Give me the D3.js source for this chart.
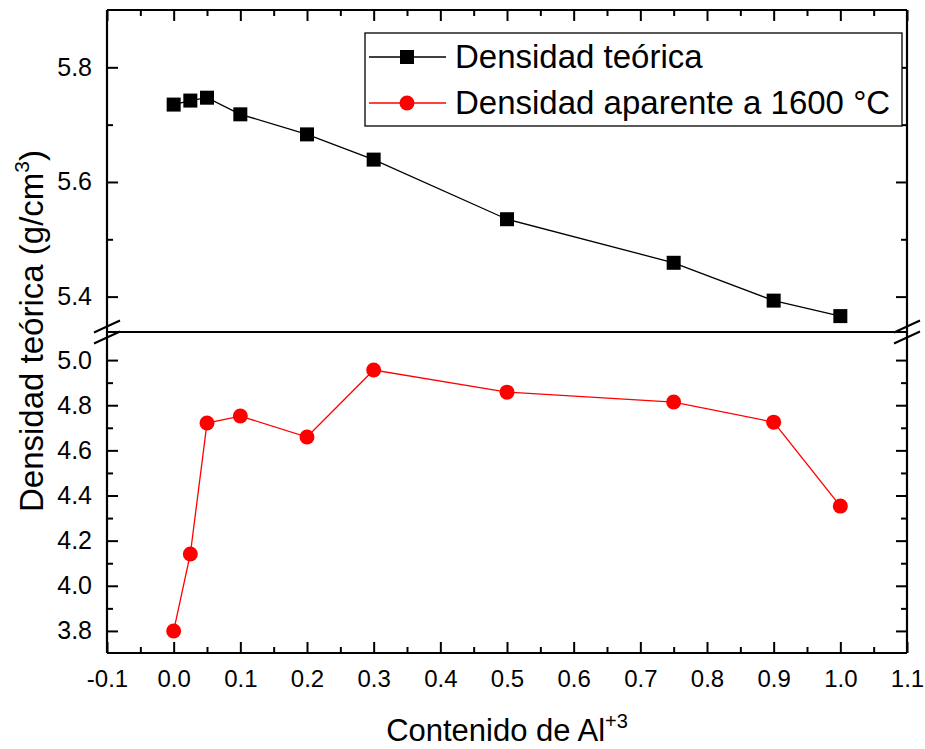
<!DOCTYPE html>
<html>
<head>
<meta charset="utf-8">
<script src="https://cdn.jsdelivr.net/npm/d3@7"></script>
<style>
  body { margin: 0; background: #fff; }
  svg { display: block; }
  text { font-family: "Liberation Sans", Arial, sans-serif; fill: #000; }
</style>
</head>
<body>
<svg id="chart" width="925" height="749"></svg>
<script>
// ---- data ----
const xValues = [0, 0.025, 0.05, 0.1, 0.2, 0.3, 0.5, 0.75, 0.9, 1.0];
const densTeorica = [5.735, 5.742, 5.747, 5.718, 5.683, 5.639, 5.535, 5.459, 5.393, 5.366];
const densAparente = [3.80, 4.141, 4.721, 4.752, 4.659, 4.956, 4.858, 4.814, 4.725, 4.353];
const xTicks = [-0.1, 0.0, 0.1, 0.2, 0.3, 0.4, 0.5, 0.6, 0.7, 0.8, 0.9, 1.0, 1.1];
const xMinorTicks = [-0.05, 0.05, 0.15, 0.25, 0.35, 0.45, 0.55, 0.65, 0.75, 0.85, 0.95, 1.05];
const yTopTicks = [5.4, 5.6, 5.8];
const yTopMinor = [5.5, 5.7];
const yBotTicks = [3.8, 4.0, 4.2, 4.4, 4.6, 4.8, 5.0];
const yBotMinor = [3.9, 4.1, 4.3, 4.5, 4.7, 4.9];
const seriesNames = ["Densidad teórica", "Densidad aparente a 1600 °C"];

const svg = d3.select("#chart");
svg.append("rect").attr("width", 925).attr("height", 749).attr("fill", "#fff");

const L = 107, R = 907, T = 10, B = 653, brk = 332;
const x = d3.scaleLinear().domain([-0.1, 1.1]).range([L, R]);
const yTop = d3.scaleLinear().domain([5.34, 5.9]).range([331, T]);
const yBot = d3.scaleLinear().domain([3.7, 5.12]).range([653.5, 333]);

const fmt1 = v => d3.format(".1f")(v).replace("\u2212", "-");
const major = 11, minor = 6;

function styleAxis(g, fontSize) {
  g.select(".domain").remove();
  g.selectAll(".tick line").attr("stroke", "#000").attr("stroke-width", 2);
  g.selectAll("text").attr("font-size", fontSize).attr("font-family", "Liberation Sans, Arial, sans-serif").attr("fill", "#000");
}

// x axes (bottom with labels, top without)
svg.append("g").attr("transform", `translate(0,${B})`)
  .call(d3.axisBottom(x).tickValues(xTicks).tickFormat(fmt1).tickSizeInner(-major).tickSizeOuter(0).tickPadding(17))
  .call(g => styleAxis(g, 24));
svg.append("g").attr("transform", `translate(0,${B})`)
  .call(d3.axisBottom(x).tickValues(xMinorTicks).tickFormat("").tickSizeInner(-minor).tickSizeOuter(0))
  .call(g => styleAxis(g, 0));
svg.append("g").attr("transform", `translate(0,${T})`)
  .call(d3.axisTop(x).tickValues(xTicks).tickFormat("").tickSizeInner(-major).tickSizeOuter(0))
  .call(g => styleAxis(g, 0));
svg.append("g").attr("transform", `translate(0,${T})`)
  .call(d3.axisTop(x).tickValues(xMinorTicks).tickFormat("").tickSizeInner(-minor).tickSizeOuter(0))
  .call(g => styleAxis(g, 0));

// y axes, top panel
svg.append("g").attr("transform", `translate(${L},0)`)
  .call(d3.axisLeft(yTop).tickValues(yTopTicks).tickFormat(fmt1).tickSizeInner(-major).tickSizeOuter(0).tickPadding(15))
  .call(g => styleAxis(g, 25));
svg.append("g").attr("transform", `translate(${L},0)`)
  .call(d3.axisLeft(yTop).tickValues(yTopMinor).tickFormat("").tickSizeInner(-minor).tickSizeOuter(0))
  .call(g => styleAxis(g, 0));
svg.append("g").attr("transform", `translate(${R},0)`)
  .call(d3.axisRight(yTop).tickValues(yTopTicks).tickFormat("").tickSizeInner(-major).tickSizeOuter(0))
  .call(g => styleAxis(g, 0));
svg.append("g").attr("transform", `translate(${R},0)`)
  .call(d3.axisRight(yTop).tickValues(yTopMinor).tickFormat("").tickSizeInner(-minor).tickSizeOuter(0))
  .call(g => styleAxis(g, 0));

// y axes, bottom panel
svg.append("g").attr("transform", `translate(${L},0)`)
  .call(d3.axisLeft(yBot).tickValues(yBotTicks).tickFormat(fmt1).tickSizeInner(-major).tickSizeOuter(0).tickPadding(15))
  .call(g => styleAxis(g, 25));
svg.append("g").attr("transform", `translate(${L},0)`)
  .call(d3.axisLeft(yBot).tickValues(yBotMinor).tickFormat("").tickSizeInner(-minor).tickSizeOuter(0))
  .call(g => styleAxis(g, 0));
svg.append("g").attr("transform", `translate(${R},0)`)
  .call(d3.axisRight(yBot).tickValues(yBotTicks).tickFormat("").tickSizeInner(-major).tickSizeOuter(0))
  .call(g => styleAxis(g, 0));
svg.append("g").attr("transform", `translate(${R},0)`)
  .call(d3.axisRight(yBot).tickValues(yBotMinor).tickFormat("").tickSizeInner(-minor).tickSizeOuter(0))
  .call(g => styleAxis(g, 0));

// frame
const frame = svg.append("g").attr("stroke", "#000").attr("stroke-width", 2.2).attr("fill", "none");
frame.append("line").attr("x1", L).attr("x2", R).attr("y1", T).attr("y2", T);
frame.append("line").attr("x1", L).attr("x2", R).attr("y1", B).attr("y2", B);
frame.append("line").attr("x1", L).attr("x2", L).attr("y1", T).attr("y2", B);
frame.append("line").attr("x1", R).attr("x2", R).attr("y1", T).attr("y2", B);
frame.append("line").attr("x1", L).attr("x2", R).attr("y1", brk).attr("y2", brk);

// break marks
[L, R].forEach(cx => {
  [-5.5, 5.5].forEach(dy => {
    frame.append("line")
      .attr("x1", cx - 13).attr("y1", brk + dy + 6)
      .attr("x2", cx + 13).attr("y2", brk + dy - 6)
      .attr("stroke-width", 2);
  });
});

// series lines
const lineTop = d3.line().x((d, i) => x(xValues[i])).y(d => yTop(d));
const lineBot = d3.line().x((d, i) => x(xValues[i])).y(d => yBot(d));
svg.append("path").datum(densTeorica).attr("d", lineTop)
  .attr("fill", "none").attr("stroke", "#000").attr("stroke-width", 1.3);
svg.append("path").datum(densAparente).attr("d", lineBot)
  .attr("fill", "none").attr("stroke", "#ff0000").attr("stroke-width", 1.3);

const sq = 14;
svg.append("g").selectAll("rect").data(densTeorica).join("rect")
  .attr("x", (d, i) => x(xValues[i]) - sq / 2)
  .attr("y", d => yTop(d) - sq / 2)
  .attr("width", sq).attr("height", sq).attr("fill", "#000");
svg.append("g").selectAll("circle").data(densAparente).join("circle")
  .attr("cx", (d, i) => x(xValues[i]))
  .attr("cy", d => yBot(d))
  .attr("r", 7.5).attr("fill", "#ff0000");

// legend
const lg = svg.append("g");
lg.append("rect").attr("x", 365).attr("y", 33).attr("width", 537).attr("height", 93)
  .attr("fill", "#fff").attr("stroke", "#000").attr("stroke-width", 1.3);
const rows = [{name: seriesNames[0], color: "#000", shape: "square", y: 57},
              {name: seriesNames[1], color: "#ff0000", shape: "circle", y: 103}];
rows.forEach(r => {
  lg.append("line").attr("x1", 369).attr("x2", 446).attr("y1", r.y).attr("y2", r.y)
    .attr("stroke", r.color).attr("stroke-width", 1.3);
  if (r.shape === "square") {
    lg.append("rect").attr("x", 407 - sq / 2).attr("y", r.y - sq / 2).attr("width", sq).attr("height", sq).attr("fill", r.color);
  } else {
    lg.append("circle").attr("cx", 407).attr("cy", r.y).attr("r", 7.5).attr("fill", r.color);
  }
  lg.append("text").attr("x", 455).attr("y", r.y + 11).attr("font-size", 33).text(r.name);
});

// axis titles
const xt = svg.append("text").attr("x", 507).attr("y", 741).attr("text-anchor", "middle").attr("font-size", 31);
xt.append("tspan").text("Contenido de Al");
xt.append("tspan").attr("font-size", 20).attr("dy", -13).text("+3");

const yt = svg.append("text").attr("transform", "translate(43,331) rotate(-90)").attr("text-anchor", "middle").attr("font-size", 33);
yt.append("tspan").text("Densidad teórica (g/cm");
yt.append("tspan").attr("font-size", 21).attr("dy", -14).text("3");
yt.append("tspan").attr("dy", 14).text(")");
</script>
</body>
</html>
